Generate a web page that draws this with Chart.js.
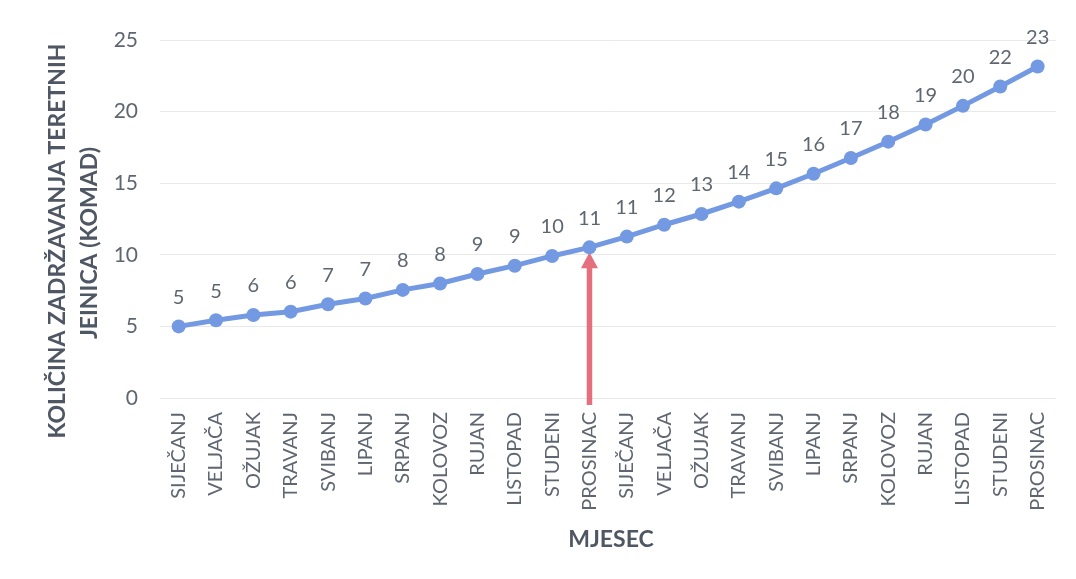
<!DOCTYPE html>
<html>
<head>
<meta charset="utf-8">
<script src="https://cdn.jsdelivr.net/npm/chart.js@4/dist/chart.umd.min.js"></script>
<style>
html,body{margin:0;padding:0;background:#fff;}
#wrap{width:1076px;height:579px;position:relative;}
</style>
</head>
<body>
<div id="wrap"><canvas id="c" width="1076" height="579"></canvas></div>
<script>
const months = ["SIJEČANJ","VELJAČA","OŽUJAK","TRAVANJ","SVIBANJ","LIPANJ","SRPANJ","KOLOVOZ","RUJAN","LISTOPAD","STUDENI","PROSINAC",
                "SIJEČANJ","VELJAČA","OŽUJAK","TRAVANJ","SVIBANJ","LIPANJ","SRPANJ","KOLOVOZ","RUJAN","LISTOPAD","STUDENI","PROSINAC"];
const values = [5.0,5.43,5.8,6.03,6.55,6.95,7.55,8.0,8.66,9.24,9.92,10.52,
                11.27,12.1,12.85,13.71,14.64,15.66,16.76,17.9,19.1,20.4,21.75,23.15];
const yTicks = [0,5,10,15,20,25];
const yTitle = ["KOLIČINA ZADRŽAVANJA TERETNIH","JEINICA (KOMAD)"];
const xTitle = "MJESEC";
const arrowIndex = 11;

const FONT = "Lato, 'Open Sans', sans-serif";
const lineColor = '#7399e3';
const textColor = '#5f6672';
const titleColor = '#4f5664';

const labelPlugin = {
  id: 'pointLabels',
  afterDatasetsDraw(chart) {
    const ctx = chart.ctx;
    const meta = chart.getDatasetMeta(0);
    ctx.save();
    ctx.font = "20px " + FONT;
    ctx.fillStyle = textColor;
    ctx.textAlign = 'center';
    ctx.textBaseline = 'bottom';
    meta.data.forEach((pt, i) => {
      ctx.fillText(String(Math.round(values[i])), pt.x, pt.y - 19);
    });
    ctx.restore();
  }
};

const titlePlugin = {
  id: 'axisTitles',
  afterDraw(chart) {
    const ctx = chart.ctx;
    ctx.save();
    ctx.fillStyle = titleColor;
    ctx.font = "bold 23px " + FONT;
    ctx.textAlign = 'center';
    ctx.textBaseline = 'middle';
    // y title (rotated, two lines)
    ctx.save();
    ctx.translate(58, 241);
    ctx.rotate(-Math.PI / 2);
    ctx.fillText(yTitle[0], 0, 0);
    ctx.fillText(yTitle[1], -2, 32);
    ctx.restore();
    // x title
    ctx.fillText(xTitle, 611, 540);
    ctx.restore();
  }
};

const arrowPlugin = {
  id: 'arrow',
  beforeDatasetsDraw(chart) {
    const ctx = chart.ctx;
    const xs = chart.scales.x, ys = chart.scales.y;
    const x = xs.getPixelForValue(arrowIndex);
    const yTip = ys.getPixelForValue(values[arrowIndex]) + 5;
    const yBase = ys.getPixelForValue(0) + 7;
    ctx.save();
    ctx.fillStyle = '#e3707c';
    ctx.strokeStyle = '#e3707c';
    ctx.lineWidth = 5.5;
    ctx.beginPath();
    ctx.moveTo(x, yBase);
    ctx.lineTo(x, yTip + 14);
    ctx.stroke();
    ctx.beginPath();
    ctx.moveTo(x, yTip);
    ctx.lineTo(x - 8.5, yTip + 16);
    ctx.lineTo(x + 8.5, yTip + 16);
    ctx.closePath();
    ctx.fill();
    ctx.restore();
  }
};

new Chart(document.getElementById('c'), {
  type: 'line',
  data: {
    labels: months,
    datasets: [{
      data: values,
      borderColor: lineColor,
      backgroundColor: lineColor,
      borderWidth: 5,
      pointRadius: 7,
      pointHoverRadius: 7,
      pointBackgroundColor: lineColor,
      pointBorderWidth: 0,
      tension: 0
    }]
  },
  options: {
    responsive: false,
    animation: false,
    events: [],
    layout: { padding: { left: 0, right: 18, top: 40, bottom: 0 } },
    plugins: { legend: { display: false }, tooltip: { enabled: false } },
    scales: {
      x: {
        offset: true,
        grid: { display: false, drawTicks: false },
        border: { display: false },
        ticks: {
          minRotation: 90, maxRotation: 90, autoSkip: false,
          padding: 14,
          color: textColor,
          font: { family: FONT, size: 20 }
        },
        afterFit(scale) { scale.height = 181; }
      },
      y: {
        min: 0, max: 25,
        afterBuildTicks(scale) { scale.ticks = yTicks.map(v => ({ value: v })); },
        grid: { color: '#e9e9e9', lineWidth: 1, drawTicks: false },
        border: { display: false },
        ticks: {
          padding: 22,
          color: textColor,
          font: { family: FONT, size: 21 }
        },
        afterFit(scale) { scale.width = 160; }
      }
    }
  },
  plugins: [arrowPlugin, labelPlugin, titlePlugin]
});
</script>
</body>
</html>
